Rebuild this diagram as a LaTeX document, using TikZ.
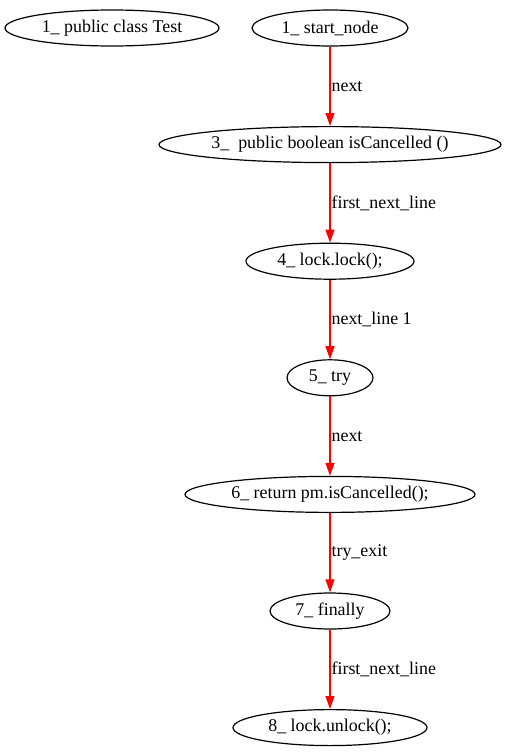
\documentclass[tikz,border=0pt]{standalone}
\usepackage{fontspec}
\setmainfont{Liberation Serif}
\usetikzlibrary{positioning}
\usetikzlibrary{shapes.geometric}
\usetikzlibrary{arrows.meta}

\begin{document}
\begin{tikzpicture}[
    x = 1pt, y = -1pt,
    every node/.style = {font = \fontsize{17.9pt}{20pt}\selectfont},
      stmt/.style = {draw, ellipse, line width = 1.2pt, inner sep = 0pt, minimum height = 36pt, minimum width = #1},
      flow/.style = {draw = red, line width = 1.2pt, -{Triangle[length = 13pt, width = 9pt]}},
      lbl/.style = {right, inner sep = 1pt},
      node distance = 79.4pt
    ]
    \useasboundingbox (0,0) rectangle (506,755);
    \node[stmt = 156pt] (start) at (330,28) {1\_ start\_node};
    \node[stmt = 214pt] (cls) at (112,28) {1\_ public class Test};
    \node[stmt = 342pt, below = of start] (meth) {3\_ \ public boolean isCancelled ()};
    \node[stmt = 168pt, below = of meth] (lock) {4\_ lock.lock();};
    \node[stmt = 86pt, below = of lock] (try) {5\_ try};
    \node[stmt = 290pt, below = of try] (ret) {6\_ return pm.isCancelled();};
    \node[stmt = 120pt, below = of ret] (fin) {7\_ finally};
    \node[stmt = 194pt, below = of fin] (unlock) {8\_ lock.unlock();};
    % edges
    \draw[flow] (start) -- node[lbl] {next} (meth);
    \draw[flow] (meth) -- node[lbl] {first\_next\_line} (lock);
    \draw[flow] (lock) -- node[lbl] {next\_line 1} (try);
    \draw[flow] (try) -- node[lbl] {next} (ret);
    \draw[flow] (ret) -- node[lbl] {try\_exit} (fin);
    \draw[flow] (fin) -- node[lbl] {first\_next\_line} (unlock);
\end{tikzpicture}
\end{document}
